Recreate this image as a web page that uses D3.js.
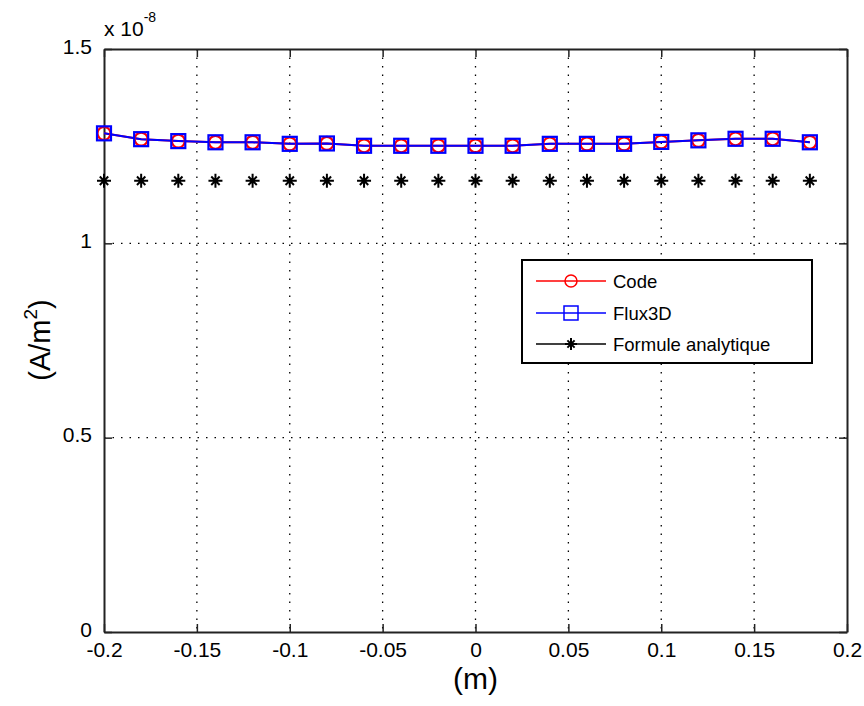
<!DOCTYPE html>
<html><head><meta charset="utf-8">
<script src="https://cdn.jsdelivr.net/npm/d3@7"></script>
<style>body{margin:0;background:#fff}svg{display:block}text{font-family:"Liberation Sans",Arial,sans-serif;fill:#000}</style>
</head><body><svg id="c" width="864" height="706"></svg>
<script>
const positions = [-0.2,-0.18,-0.16,-0.14,-0.12,-0.1,-0.08,-0.06,-0.04,-0.02,0,0.02,0.04,0.06,0.08,0.1,0.12,0.14,0.16,0.18];
const codeValues = [1.283,1.268,1.263,1.260,1.260,1.256,1.257,1.251,1.251,1.251,1.251,1.251,1.256,1.256,1.256,1.261,1.265,1.269,1.269,1.260];
const flux3dValues = [1.283,1.268,1.263,1.260,1.260,1.256,1.257,1.251,1.251,1.251,1.251,1.251,1.256,1.256,1.256,1.261,1.265,1.269,1.269,1.260];
const analyticValues = [1.161,1.161,1.161,1.161,1.161,1.161,1.161,1.161,1.161,1.161,1.161,1.161,1.161,1.161,1.161,1.161,1.161,1.161,1.161,1.161];
const xTicks = [-0.2,-0.15,-0.1,-0.05,0,0.05,0.1,0.15,0.2];
const xTickLabels = ["-0.2","-0.15","-0.1","-0.05","0","0.05","0.1","0.15","0.2"];
const yTicks = [0,0.5,1,1.5];
const yTickLabels = ["0","0.5","1","1.5"];
const seriesNames = ["Code","Flux3D","Formule analytique"];

const svg = d3.select("#c");
const L=104, R=847, T=49, B=632;
const x = d3.scaleLinear().domain([-0.2,0.2]).range([L,R]);
const y = d3.scaleLinear().domain([0,1.5]).range([B,T]);
const axisCol = "#222";

// grid
const g = svg.append("g");
xTicks.slice(1,-1).forEach(v=>g.append("line").attr("x1",x(v)).attr("x2",x(v)).attr("y1",T).attr("y2",B)
  .attr("stroke","#000").attr("stroke-width",1.3).attr("stroke-dasharray","1.5,7"));
yTicks.slice(1,-1).forEach(v=>g.append("line").attr("x1",L).attr("x2",R).attr("y1",y(v)).attr("y2",y(v))
  .attr("stroke","#000").attr("stroke-width",1.3).attr("stroke-dasharray","1.5,7"));

// axes
const xa = svg.append("g").attr("transform",`translate(0,${B})`)
  .call(d3.axisBottom(x).tickValues(xTicks).tickFormat((d,i)=>xTickLabels[i]).tickSizeInner(-8).tickSizeOuter(0).tickPadding(10));
const xt = svg.append("g").attr("transform",`translate(0,${T})`)
  .call(d3.axisTop(x).tickValues(xTicks).tickFormat("").tickSizeInner(-8).tickSizeOuter(0));
const ya = svg.append("g").attr("transform",`translate(${L},0)`)
  .call(d3.axisLeft(y).tickValues(yTicks).tickFormat((d,i)=>yTickLabels[i]).tickSizeInner(-8).tickSizeOuter(0).tickPadding(12));
const yr = svg.append("g").attr("transform",`translate(${R},0)`)
  .call(d3.axisRight(y).tickValues(yTicks).tickFormat("").tickSizeInner(-8).tickSizeOuter(0));
[xa,xt,ya,yr].forEach(a=>{
  a.selectAll("path").attr("stroke",axisCol).attr("stroke-width",2);
  a.selectAll("line").attr("stroke",axisCol).attr("stroke-width",1.5);
  a.selectAll("text").attr("font-size",21).attr("fill","#111").attr("font-family","Liberation Sans, Arial, sans-serif");
});
xa.selectAll("text").attr("dy","0.71em");
ya.selectAll("text").attr("dy","0.2em");

// series
const line = vals => d3.line().x((d,i)=>x(positions[i])).y(d=>y(d))(vals);
svg.append("path").attr("d",line(codeValues)).attr("fill","none").attr("stroke","#f00").attr("stroke-width",2);
svg.append("path").attr("d",line(flux3dValues)).attr("fill","none").attr("stroke","#00f").attr("stroke-width",2);

const star = (sel,cx,cy,s)=>{
  const p = `M${cx-s},${cy}H${cx+s}M${cx},${cy-s}V${cy+s}M${cx-s*0.6},${cy-s*0.6}L${cx+s*0.6},${cy+s*0.6}M${cx-s*0.6},${cy+s*0.6}L${cx+s*0.6},${cy-s*0.6}`;
  sel.append("path").attr("d",p).attr("stroke","#000").attr("stroke-width",2).attr("fill","none");
};
codeValues.forEach((v,i)=>svg.append("circle").attr("cx",x(positions[i])).attr("cy",y(v)).attr("r",6.5)
  .attr("fill","none").attr("stroke","#f00").attr("stroke-width",2.2));
flux3dValues.forEach((v,i)=>svg.append("rect").attr("x",x(positions[i])-7).attr("y",y(v)-7).attr("width",14).attr("height",14)
  .attr("fill","none").attr("stroke","#00f").attr("stroke-width",2.2));
analyticValues.forEach((v,i)=>star(svg,x(positions[i]),y(v),7));

// legend
const lg = svg.append("g");
lg.append("rect").attr("x",522).attr("y",260).attr("width",290).attr("height",103).attr("fill","#fff").attr("stroke","#000").attr("stroke-width",2);
const rows=[281,313,344];
const cols=["#f00","#00f","#000"];
rows.forEach((ry,i)=>{
  lg.append("line").attr("x1",536).attr("x2",606).attr("y1",ry).attr("y2",ry).attr("stroke",cols[i]).attr("stroke-width",1.5);
  if(i===0) lg.append("circle").attr("cx",571).attr("cy",ry).attr("r",6).attr("fill","none").attr("stroke","#f00").attr("stroke-width",1.5);
  if(i===1) lg.append("rect").attr("x",564).attr("y",ry-7).attr("width",14).attr("height",14).attr("fill","none").attr("stroke","#00f").attr("stroke-width",1.5);
  if(i===2) star(lg,571,ry,6);
  lg.append("text").attr("x",613).attr("y",ry).attr("dy","0.36em").attr("font-size",18.5).text(seriesNames[i]);
});

// exponent
const ex = svg.append("text").attr("x",104).attr("y",36).attr("font-size",21);
ex.append("tspan").text("x 10");
ex.append("tspan").attr("font-size",14).attr("dy",-14).text("-8");

// labels
svg.append("text").attr("x",x(0)).attr("y",689).attr("text-anchor","middle").attr("font-size",30).text("(m)");
const yl = svg.append("text").attr("transform","translate(50,340) rotate(-90)").attr("text-anchor","middle").attr("font-size",29);
yl.append("tspan").text("(A/m");
yl.append("tspan").attr("font-size",19).attr("dy",-13).text("2");
yl.append("tspan").attr("dy",13).text(")");
</script></body></html>
